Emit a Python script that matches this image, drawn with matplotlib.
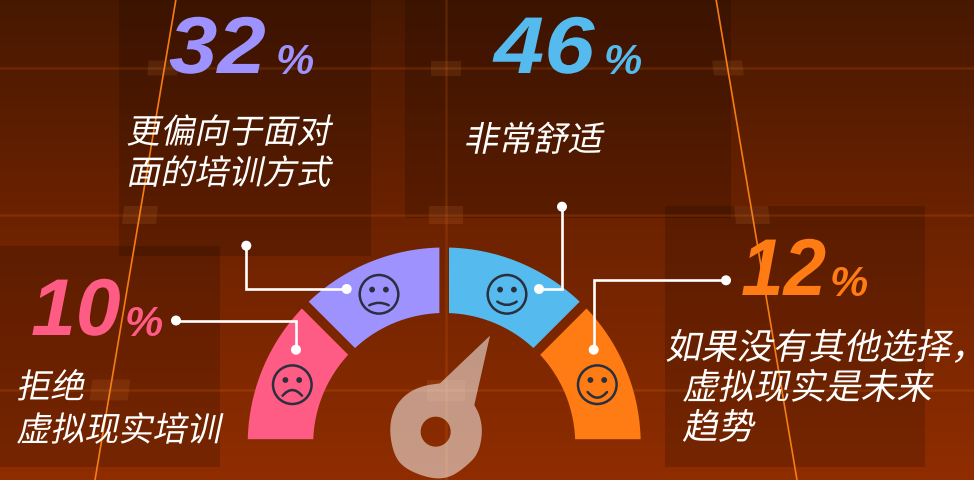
import numpy as np
import matplotlib
matplotlib.use('Agg')
import matplotlib.pyplot as plt
import matplotlib.patheffects as path_effects
from matplotlib.colors import LinearSegmentedColormap
from matplotlib.patches import Circle, PathPatch, Polygon, Rectangle
from matplotlib.path import Path
from matplotlib.transforms import Affine2D


values = [10, 32, 46, 12]
colors = ['#ff5c85', '#9e92ff', '#55bbef', '#ff7c14']
labels = [
    ['拒绝', '虚拟现实培训'],
    ['更偏向于面对', '面的培训方式'],
    ['非常舒适'],
    ['如果没有其他选择，', '虚拟现实是未来', '趋势'],
]
mouth_curves = [-0.3, 6, 14, 18.7]

W, H = 974, 481
CJK = ['Noto Sans CJK SC', 'DejaVu Sans']
LATIN = ['Liberation Sans', 'DejaVu Sans']
CX, CY = 444.2, 445
R_OUT, R_IN = 196.5, 131
GAP = 4.8


class Shear(path_effects.AbstractPathEffect):
    # CJK fonts have no italic, so shear the glyphs when they are drawn
    def __init__(self, deg=0, stretch=1):
        super().__init__()
        self.deg = deg
        self.stretch = stretch

    def draw_path(self, renderer, gc, tpath, affine, rgbFace=None):
        sheared = Affine2D().skew_deg(self.deg, 0).scale(self.stretch, 1) + affine
        renderer.draw_path(gc, tpath, sheared, rgbFace)


def background(ax):
    cmap = LinearSegmentedColormap.from_list(
        'bg', ['#471800', '#6f2300', '#8f2d00'])
    ramp = np.linspace(0, 1, 256).reshape(-1, 1)
    ax.imshow(ramp, cmap=cmap, extent=(0, W, H, 0), aspect='auto', zorder=0)

    # dark panels behind the text
    for x0, y0, x1, y1 in [(119, 0, 371, 257), (405, 0, 731, 219),
                           (0, 247, 220, 468), (665, 207, 925, 468)]:
        ax.add_patch(Rectangle((x0, y0), x1 - x0, y1 - y0, fc='black',
                               alpha=0.16, lw=0, zorder=1))

    for y in [69, 216, 391]:
        ax.plot([0, W], [y, y], color='#ff7a1a', alpha=0.15, lw=1.8, zorder=2)
    ax.plot([446, 446], [0, H], color='#ff7a1a', alpha=0.15, lw=1.8, zorder=2)

    ax.plot([176, 95], [0, H], color='#f57c12', lw=1.2, zorder=2)
    ax.plot([716, 797], [0, H], color='#f57c12', lw=1.2, zorder=2)

    # small squares where the lines cross
    for y, half_w, half_h, xs in [(69, 15, 7.5, [163, 446, 728]),
                                  (216, 17, 9, [140, 446, 752]),
                                  (391, 19, 10.5, [110, 446])]:
        for x in xs:
            lean = (446 - x) / 446 * 0.168 * half_h
            pts = [(x - half_w + lean, y - half_h), (x + half_w + lean, y - half_h),
                   (x + half_w - lean, y + half_h), (x - half_w - lean, y + half_h)]
            ax.add_patch(Polygon(pts, fc='#ffa050', alpha=0.11, lw=0, zorder=3))


def gauge_segment(ax, i, color):
    a0, a1 = np.radians(180 - 45 * i), np.radians(180 - 45 * (i + 1))
    pts = []
    for r, sign in [(R_OUT, 1), (R_IN, -1)]:
        off = np.arcsin(GAP / r)
        ang = np.linspace(a0 - off, a1 + off, 60)
        if sign < 0:
            ang = ang[::-1]
        pts += list(zip(CX + r * np.cos(ang), CY - r * np.sin(ang)))
    ax.add_patch(Polygon(pts, fc=color, lw=0, zorder=4))


def face(ax, cx, cy, curve):
    ink = '#2a2f3e'
    ax.add_patch(Circle((cx, cy), 19.3, fc='none', ec=ink, lw=1.8, zorder=5))
    for dx in [-6.9, 6.9]:
        ax.add_patch(Circle((cx + dx, cy - 4.7), 2.9, fc=ink, lw=0, zorder=5))
    end = 7.3 if curve > 10 else 11
    path = Path([(cx - 9.7, cy + end), (cx, cy + curve), (cx + 9.7, cy + end)],
                [Path.MOVETO, Path.CURVE3, Path.CURVE3])
    ax.add_patch(PathPatch(path, fc='none', ec=ink, lw=1.8, capstyle='round', zorder=5))


def smooth(pts, rounds=3):
    # corner cutting, keeps the two end points
    pts = np.asarray(pts, dtype=float)
    for _ in range(rounds):
        q = 0.75 * pts[:-1] + 0.25 * pts[1:]
        r = 0.25 * pts[:-1] + 0.75 * pts[1:]
        mid = np.empty((len(q) * 2, 2))
        mid[0::2], mid[1::2] = q, r
        pts = np.vstack([pts[0], mid, pts[-1]])
    return pts


def needle(ax):
    blob = [(180, 163), (130, 170), (85, 190), (50, 225), (32, 270),
            (30, 320), (42, 375), (65, 410), (110, 435), (165, 450), (210, 445),
            (255, 415), (295, 375), (308, 310), (300, 260), (283, 228)]
    outline = np.vstack([[(330, 20)], smooth(blob), [(330, 20)]])
    outer = Path(np.column_stack([380 + outline[:, 0] / 3, 330 + outline[:, 1] / 3]),
                 closed=True)
    t = np.linspace(0, 2 * np.pi, 60)
    hole = Path(np.column_stack([380 + 167 / 3 + 15 * np.cos(t),
                                 330 + 308 / 3 + 15 * np.sin(t)]), closed=True)
    ax.add_patch(PathPatch(Path.make_compound_path(outer, hole), fc='white',
                           alpha=0.52, lw=0, zorder=4))


def leader(ax, xs, ys):
    ax.plot(xs, ys, color='white', lw=1.9, solid_joinstyle='miter', zorder=6)
    for i in [0, -1]:
        ax.add_patch(Circle((xs[i], ys[i]), 5, fc='white', lw=0, zorder=6))


def big_value(ax, value, color, x, x_pct, y, stretch):
    ax.text(x, y, str(value), color=color, fontsize=58, family=LATIN,
            weight='bold', style='italic', ha='left', va='baseline', zorder=7,
            path_effects=[Shear(stretch=stretch)])
    ax.text(x_pct, y, '%', color=color, fontsize=31, family=LATIN,
            weight='bold', style='italic', ha='left', va='baseline', zorder=7)


def caption(ax, lines, xs, ys, size):
    for line, x, y in zip(lines, xs, ys):
        ax.text(x, y, line, color='white', fontsize=size, family=CJK, ha='left',
                va='baseline', path_effects=[Shear(deg=12)], zorder=7)


fig = plt.figure(figsize=(W / 100, H / 100), dpi=100)
ax = fig.add_axes([0, 0, 1, 1])
background(ax)

for i, color in enumerate(colors):
    gauge_segment(ax, i, color)

face_xy = [(292.3, 385.7), (379, 295.3), (507, 295.3), (597.3, 385.7)]
for (x, y), curve in zip(face_xy, mouth_curves):
    face(ax, x, y, curve)

needle(ax)

leader(ax, [176, 296, 296], [321.5, 321.5, 350.7])
leader(ax, [246.3, 246.3, 346.7], [246.7, 290, 290])
leader(ax, [562, 562, 539], [207.7, 290, 290])
leader(ax, [726, 593.7, 593.7], [281.3, 281.3, 350.7])

big_value(ax, values[0], colors[0], 31, 125, 336, 1.0)
big_value(ax, values[1], colors[1], 169, 276, 74, 1.08)
big_value(ax, values[2], colors[2], 494, 604, 74, 1.12)
big_value(ax, values[3], colors[3], 741, 830, 296, 0.95)

caption(ax, labels[0], [16, 16], [399, 442], 24.5)
caption(ax, labels[1], [126, 126], [144, 185], 24.5)
caption(ax, labels[2], [463], [152], 25)
caption(ax, labels[3], [665, 682, 682], [360, 400, 440], 25.7)

ax.set_xlim(0, W)
ax.set_ylim(H, 0)
ax.axis('off')
fig.savefig('out.png', dpi=100)
